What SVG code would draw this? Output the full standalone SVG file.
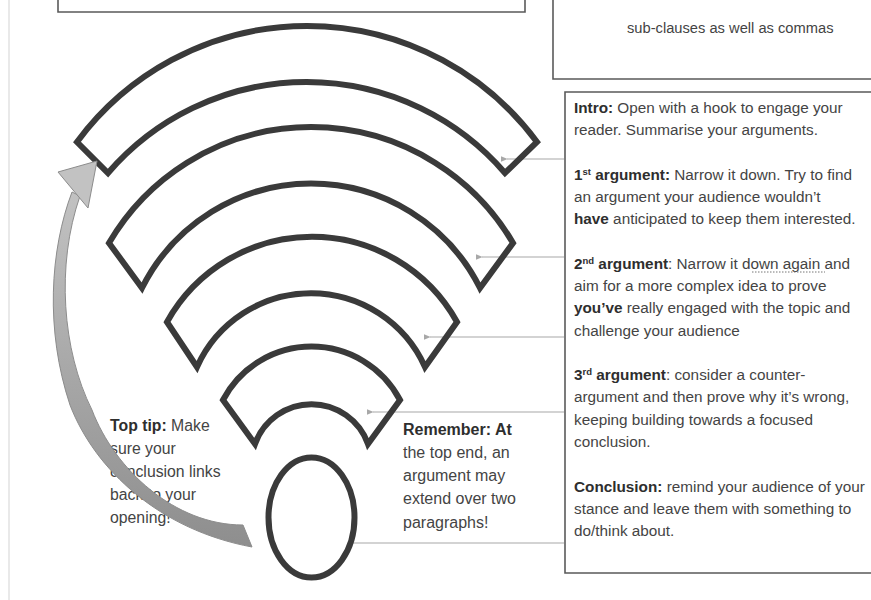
<svg xmlns="http://www.w3.org/2000/svg" width="871" height="600" viewBox="0 0 871 600">
<defs>
<style>
.band{fill:none;stroke:#3a3a3a;stroke-width:6;stroke-linejoin:miter}
.frame{fill:none;stroke:#5a5a5a;stroke-width:1.6}
.conn{stroke:#c4c4c4;stroke-width:1.3;fill:none}
.t{font-family:"Liberation Sans",Arial,sans-serif;font-size:15.3px;fill:#444444}
.b{font-weight:bold;fill:#2e2e2e}
.sup{font-size:9.5px}
</style>
<linearGradient id="arrowFill" x1="0" y1="0" x2="0" y2="1">
<stop offset="0" stop-color="#c2c2c2"/>
<stop offset="1" stop-color="#8e8e8e"/>
</linearGradient>
<marker id="ah" viewBox="0 0 10 10" refX="1" refY="5" markerWidth="7" markerHeight="7" orient="auto-start-reverse" markerUnits="userSpaceOnUse">
<path d="M0,5 L10,1 L10,9 Z" fill="#a8a8a8"/>
</marker>
</defs>
<rect width="871" height="600" fill="#ffffff"/>
<line x1="9" y1="0" x2="9" y2="600" stroke="#e2e2e2" stroke-width="1.5"/>

<g id="top-left-box">
<path class="frame" d="M58,0 L58,12 L525,12 L525,0"/>
</g>
<g id="top-right-box">
<path class="frame" d="M553,0 L553,79 L871,79"/>
<text class="t" x="627" y="33" style="font-size:14.7px">sub-clauses as well as commas</text>
</g>

<g id="connectors">
<line class="conn" x1="507" y1="159" x2="564" y2="159" marker-start="url(#ah)"/>
<line class="conn" x1="482" y1="257" x2="564" y2="257" marker-start="url(#ah)"/>
<line class="conn" x1="430" y1="337" x2="564" y2="337" marker-start="url(#ah)"/>
<line class="conn" x1="373" y1="412" x2="564" y2="412" marker-start="url(#ah)"/>
<line class="conn" x1="353" y1="543" x2="564" y2="543"/>
</g>

<g id="band1"><path class="band" d="M77,142 A286,286 0 0 1 537,142 L505,173 A262,262 0 0 0 108,173 Z"/></g>
<g id="band2"><path class="band" d="M109,243 A234,234 0 0 1 513,243 L480,288 A189,189 0 0 0 142,288 Z"/></g>
<g id="band3"><path class="band" d="M167,322 A166,166 0 0 1 457,322 L425,367 A125,125 0 0 0 197,367 Z"/></g>
<g id="band4"><path class="band" d="M223,400 A100,100 0 0 1 400,400 L368,444 A60,60 0 0 0 255,444 Z"/></g>
<g id="dot"><ellipse class="band" cx="311.5" cy="517.5" rx="43" ry="60" stroke-width="5"/></g>

<g id="top-tip">
<text class="t" style="font-size:15.8px"><tspan x="110" y="431"><tspan class="b">Top tip:</tspan> Make</tspan><tspan x="110" y="454">sure your</tspan><tspan x="110" y="477">conclusion links</tspan><tspan x="110" y="500">back to your</tspan><tspan x="110" y="523">opening!</tspan></text>
</g>

<g id="loop-arrow">
<path d="M72,192 C50,250 45,330 70,405 C95,470 160,530 252,547 L243,525 C175,525 115,470 92,410 C62,350 56,265 80,196 Z" fill="url(#arrowFill)" stroke="#8c8c8c" stroke-width="1"/>
<path d="M58,172 L97,161 L88,208 Z" fill="#c2c2c2" stroke="#8c8c8c" stroke-width="1" stroke-linejoin="round"/>
</g>

<g id="remember">
<text class="t" style="font-size:16px"><tspan x="403" y="435" class="b">Remember: At</tspan><tspan x="403" y="458">the top end, an</tspan><tspan x="403" y="481">argument may</tspan><tspan x="403" y="504">extend over two</tspan><tspan x="403" y="528">paragraphs!</tspan></text>
</g>

<g id="structure-box">
<path class="frame" d="M871,92 L565,92 L565,573 L871,573"/>
<text class="t">
<tspan x="574" y="113"><tspan class="b">Intro:</tspan> Open with a hook to engage your</tspan>
<tspan x="574" y="135">reader. Summarise your arguments.</tspan>
<tspan x="574" y="180"><tspan class="b">1<tspan class="sup" dy="-5">st</tspan><tspan dy="5"> argument:</tspan></tspan> Narrow it down. Try to find</tspan>
<tspan x="574" y="202">an argument your audience wouldn’t</tspan>
<tspan x="574" y="224"><tspan class="b">have</tspan> anticipated to keep them interested.</tspan>
<tspan x="574" y="269"><tspan class="b">2<tspan class="sup" dy="-5">nd</tspan><tspan dy="5"> argument</tspan></tspan>: Narrow it down again and</tspan>
<tspan x="574" y="291">aim for a more complex idea to prove</tspan>
<tspan x="574" y="313"><tspan class="b">you’ve</tspan> really engaged with the topic and</tspan>
<tspan x="574" y="336">challenge your audience</tspan>
<tspan x="574" y="380"><tspan class="b">3<tspan class="sup" dy="-5">rd</tspan><tspan dy="5"> argument</tspan></tspan>: consider a counter-</tspan>
<tspan x="574" y="402">argument and then prove why it’s wrong,</tspan>
<tspan x="574" y="425">keeping building towards a focused</tspan>
<tspan x="574" y="447">conclusion.</tspan>
<tspan x="574" y="492"><tspan class="b">Conclusion:</tspan> remind your audience of your</tspan>
<tspan x="574" y="514">stance and leave them with something to</tspan>
<tspan x="574" y="536">do/think about.</tspan>
</text>
<line x1="752" y1="272" x2="825" y2="272" stroke="#777" stroke-width="1" stroke-dasharray="1.5,1.5"/>
</g>
</svg>
